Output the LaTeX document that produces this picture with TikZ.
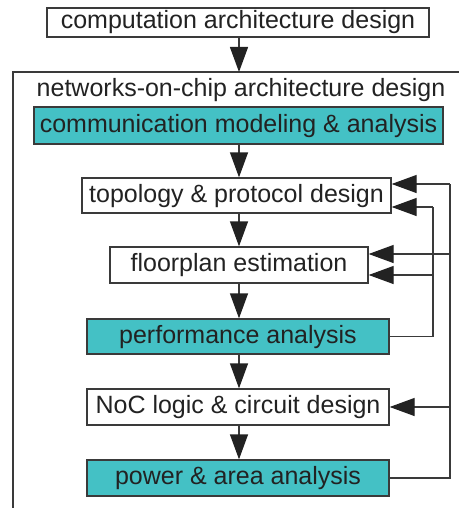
\documentclass[tikz,border=0pt]{standalone}
\usepackage{fontspec}
\setmainfont{Liberation Sans}
\usetikzlibrary{arrows.meta}
\definecolor{teal1}{RGB}{68,193,197}
\definecolor{lin}{RGB}{58,58,58}
\definecolor{txt}{RGB}{34,34,34}
\begin{document}
\begin{tikzpicture}[x=1pt,y=-1pt,
  every node/.style={font=\fontsize{25}{30}\selectfont, text=txt},
  box/.style={draw=lin, line width=1.3pt, fill=white, inner sep=0pt, text height=18pt, text depth=5pt},
  tealbox/.style={box, fill=teal1},
  arr/.style={draw=lin, line width=1.3pt, -{Triangle[length=25pt,width=18pt,color=txt]}},
  fb/.style={draw=lin, line width=1.3pt}]
\useasboundingbox (0,0) rectangle (459,508);
\node[box, minimum width=382pt, minimum height=29pt] (top) at (238,22.5) {computation architecture design};
\draw[fb] (13,508) -- (13,72) -- (459,72);
\coordinate (frametop) at (239,72);
\node[anchor=base] (netlabel) at (241,97) {networks-on-chip architecture design};
\node[tealbox, minimum width=409pt, minimum height=37pt] (comm) at (238.5,125.5) {communication modeling \& analysis};
\node[box, minimum width=309pt, minimum height=35pt] (topo) at (236.5,195.5) {topology \& protocol design};
\node[box, minimum width=258pt, minimum height=36pt] (floor) at (239,265) {floorplan estimation};
\node[tealbox, minimum width=302pt, minimum height=35pt] (perf) at (238,336.5) {performance analysis};
\node[box, minimum width=302pt, minimum height=36pt] (noc) at (238,407) {NoC logic \& circuit design};
\node[tealbox, minimum width=302pt, minimum height=36pt] (power) at (238,478) {power \& area analysis};
% vertical arrows
\draw[arr] (top.south -| frametop) -- (frametop);
\draw[arr] (comm.south -| frametop) -- (topo.north -| frametop);
\draw[arr] (topo.south -| frametop) -- (floor.north -| frametop);
\draw[arr] (floor.south -| frametop) -- (perf.north -| frametop);
\draw[arr] (perf.south -| frametop) -- (noc.north -| frametop);
\draw[arr] (noc.south -| frametop) -- (power.north -| frametop);
% feedback from performance analysis
\coordinate (ia) at (433,0);
\draw[fb] (perf.east) -- (perf.east -| ia) -- ([yshift=-11.5pt]topo.east -| ia);
\draw[arr] ([yshift=-11.5pt]topo.east -| ia) -- ([yshift=-11.5pt]topo.east);
\draw[arr] ([yshift=-10pt]floor.east -| ia) -- ([yshift=-10pt]floor.east);
% feedback from power & area analysis
\coordinate (oa) at (450,0);
\draw[fb] (power.east) -- (power.east -| oa) -- ([yshift=11.5pt]topo.east -| oa);
\draw[arr] ([yshift=11.5pt]topo.east -| oa) -- ([yshift=11.5pt]topo.east);
\draw[arr] ([yshift=11pt]floor.east -| oa) -- ([yshift=11pt]floor.east);
\draw[arr] (noc.east -| oa) -- (noc.east);
\end{tikzpicture}
\end{document}
